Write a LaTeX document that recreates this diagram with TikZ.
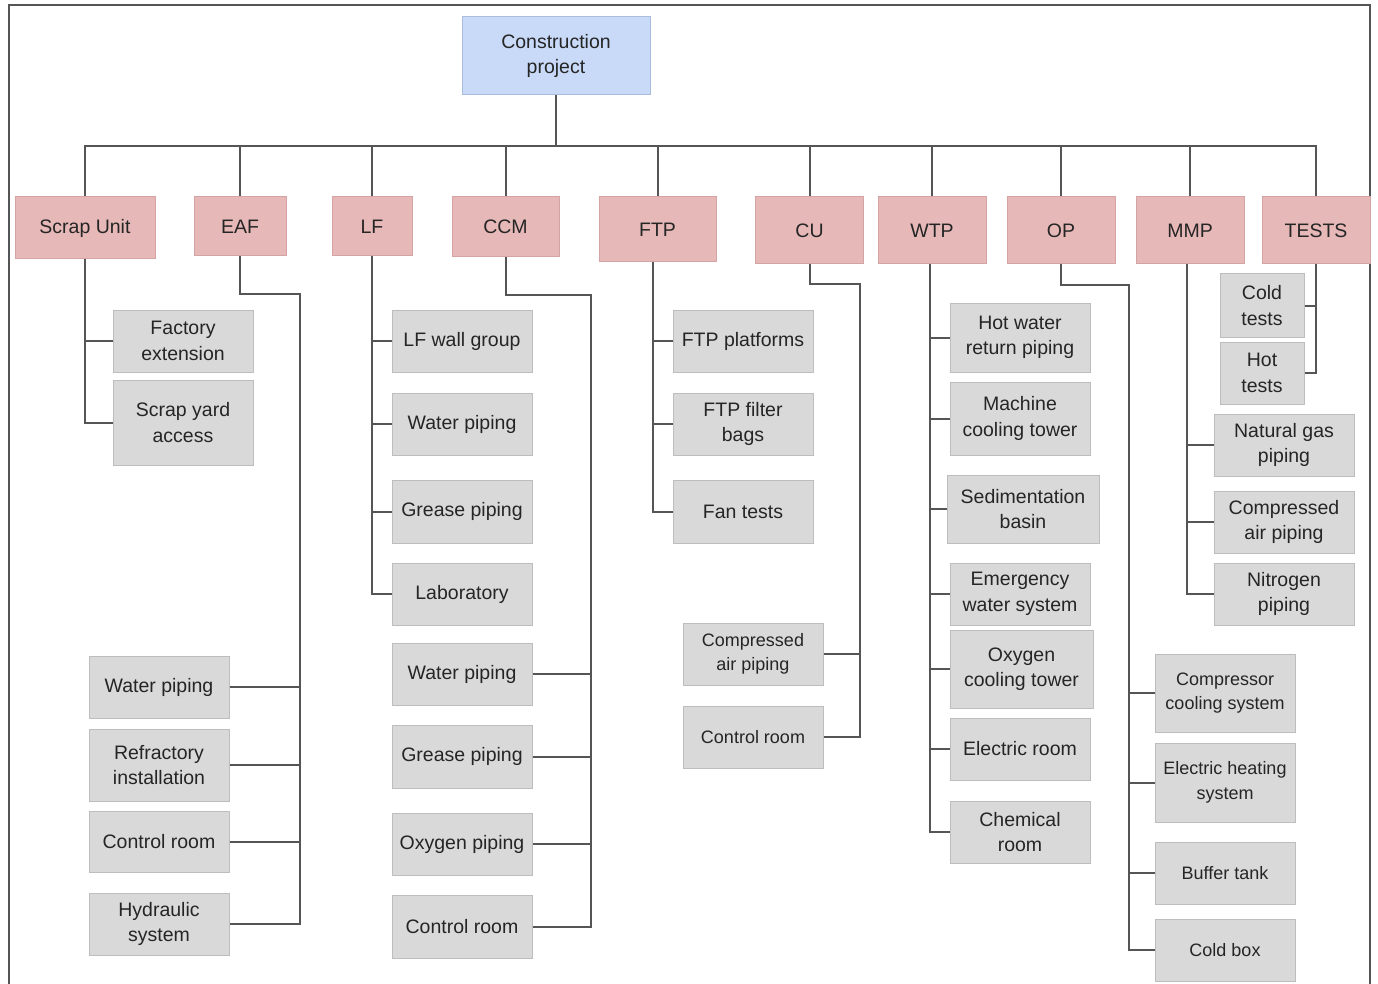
\documentclass[tikz,border=0pt]{standalone}
\usepackage{fontspec}
\setmainfont{Liberation Sans}
\definecolor{rootfill}{HTML}{C9DAF8}
\definecolor{rootdraw}{HTML}{A9BEDD}
\definecolor{pinkfill}{HTML}{E6B8B7}
\definecolor{pinkdraw}{HTML}{D4A3A3}
\definecolor{grayfill}{HTML}{D9D9D9}
\definecolor{graydraw}{HTML}{BDBDBD}
\definecolor{linecol}{HTML}{555555}
\definecolor{textcol}{HTML}{252525}
\tikzset{
  box/.style={rectangle, inner sep=0pt, align=center, text=textcol, line width=1pt,
    font=\fontsize{19.5}{25.5}\selectfont},
  rootbox/.style={box, fill=rootfill, draw=rootdraw},
  lonebox/.style={box, fill=pinkfill, draw=pinkdraw},
  ltwobox/.style={box, fill=grayfill, draw=graydraw},
  smalltext/.style={font=\fontsize{18}{24.5}\selectfont},
  conn/.style={draw=linecol, line width=2pt},
  frame/.style={draw=linecol, line width=2pt}
}
\newcommand{\bx}[6]{\node[#1, minimum width=#4pt, minimum height=#5pt] (#6) at (#2,#3)}
\begin{document}
\begin{tikzpicture}[x=1pt,y=-1pt]
\useasboundingbox (0,0) rectangle (1378,984);
\draw[frame] (9,984) -- (9,5) -- (1370,5) -- (1370,984);

% root
\bx{rootbox}{556}{56}{188}{78}{root} {Construction\\project};
% level 1
\bx{lonebox}{85}{228}{140}{62}{su} {Scrap Unit};
\bx{lonebox}{240}{226.5}{92}{59}{eaf} {EAF};
\bx{lonebox}{372}{226.5}{80}{59}{lf} {LF};
\bx{lonebox}{505.5}{227}{107}{60}{ccm} {CCM};
\bx{lonebox}{657.5}{229.5}{117}{65}{ftp} {FTP};
\bx{lonebox}{809.5}{230.5}{108}{67}{cu} {CU};
\bx{lonebox}{932}{230.5}{108}{67}{wtp} {WTP};
\bx{lonebox}{1061}{230.5}{108}{67}{op} {OP};
\bx{lonebox}{1190}{230.5}{108}{67}{mmp} {MMP};
\bx{lonebox}{1316}{230.5}{108}{67}{tests} {TESTS};

% level 2
\bx{ltwobox}{183}{341}{140}{62}{fe} {Factory\\extension};
\bx{ltwobox}{183}{422.5}{140}{85}{sya} {Scrap yard\\access};

\bx{ltwobox}{159}{687}{140}{62}{ewp} {Water piping};
\bx{ltwobox}{159}{765}{140}{72}{eri} {Refractory\\installation};
\bx{ltwobox}{159}{841.5}{140}{61}{ecr} {Control room};
\bx{ltwobox}{159}{924}{140}{62}{ehs} {Hydraulic\\system};

\bx{ltwobox}{462}{341}{140}{62}{lwg} {LF wall group};
\bx{ltwobox}{462}{424}{140}{62}{lwp} {Water piping};
\bx{ltwobox}{462}{511.5}{140}{63}{lgp} {Grease piping};
\bx{ltwobox}{462}{594}{140}{62}{llab} {Laboratory};

\bx{ltwobox}{462}{674}{140}{62}{cwp} {Water piping};
\bx{ltwobox}{462}{756.5}{140}{63}{cgp} {Grease piping};
\bx{ltwobox}{462}{844}{140}{62}{cop} {Oxygen piping};
\bx{ltwobox}{462}{926.5}{140}{63}{ccr} {Control room};

\bx{ltwobox}{743}{341}{140}{62}{fpl} {FTP platforms};
\bx{ltwobox}{743}{424}{140}{62}{ffb} {FTP filter\\bags};
\bx{ltwobox}{743}{511.5}{140}{63}{fft} {Fan tests};

\bx{ltwobox,smalltext}{753}{654}{140}{62}{ucap} {Compressed\\air piping};
\bx{ltwobox,smalltext}{753}{737}{140}{62}{ucr} {Control room};

\bx{ltwobox}{1020}{337.5}{140}{69}{whw} {Hot water\\return piping};
\bx{ltwobox}{1020}{418.5}{140}{73}{wmc} {Machine\\cooling tower};
\bx{ltwobox}{1023}{509}{152}{68}{wsb} {Sedimentation\\basin};
\bx{ltwobox}{1020}{594}{140}{62}{wew} {Emergency\\water system};
\bx{ltwobox}{1021.5}{669}{143}{78}{woc} {Oxygen\\cooling tower};
\bx{ltwobox}{1020}{749}{140}{62}{wer} {Electric room};
\bx{ltwobox}{1020}{832}{140}{62}{wcr} {Chemical\\room};

\bx{ltwobox,smalltext}{1225}{693}{140}{78}{occs} {Compressor\\cooling system};
\bx{ltwobox,smalltext}{1225}{782.5}{140}{79}{oehs} {Electric heating\\system};
\bx{ltwobox,smalltext}{1225}{873}{140}{62}{obt} {Buffer tank};
\bx{ltwobox,smalltext}{1225}{950}{140}{62}{ocb} {Cold box};

\bx{ltwobox}{1284}{445}{140}{62}{mng} {Natural gas\\piping};
\bx{ltwobox}{1284}{522}{140}{62}{mca} {Compressed\\air piping};
\bx{ltwobox}{1284}{594}{140}{62}{mnp} {Nitrogen\\piping};

\bx{ltwobox}{1262}{305.5}{84}{63}{tct} {Cold\\tests};
\bx{ltwobox}{1262}{373}{84}{62}{tht} {Hot\\tests};

% connectors: root to level 1
\coordinate (bus) at (556,146);
\draw[conn] (root.south) -- (bus);
\foreach \n in {su,eaf,lf,ccm,ftp,cu,wtp,op,mmp,tests}
  \draw[conn] (bus) -| (\n.north);

% Scrap Unit
\draw[conn] (su.south) |- (sya.west);
\draw[conn] (fe.west) -- (fe.west -| su.south);

% EAF
\coordinate (eafb) at (300,294);
\draw[conn] (eaf.south) |- (eafb) |- (ehs.east);
\foreach \n in {ewp,eri,ecr}
  \draw[conn] (\n.east) -- (\n.east -| eafb);

% LF
\draw[conn] (lf.south) |- (llab.west);
\foreach \n in {lwg,lwp,lgp}
  \draw[conn] (\n.west) -- (\n.west -| lf.south);

% CCM
\coordinate (ccmb) at (591,295);
\draw[conn] (ccm.south) |- (ccmb) |- (ccr.east);
\foreach \n in {cwp,cgp,cop}
  \draw[conn] (\n.east) -- (\n.east -| ccmb);

% FTP
\coordinate (ftpt) at (653,262);
\draw[conn] (ftpt) |- (fft.west);
\foreach \n in {fpl,ffb}
  \draw[conn] (\n.west) -- (\n.west -| ftpt);

% CU
\coordinate (cub) at (860,284);
\draw[conn] (cu.south) |- (cub) |- (ucr.east);
\draw[conn] (ucap.east) -- (ucap.east -| cub);

% WTP
\coordinate (wtpt) at (930,264);
\draw[conn] (wtpt) |- (wcr.west);
\foreach \n in {whw,wmc,wsb,wew,woc,wer}
  \draw[conn] (\n.west) -- (\n.west -| wtpt);

% OP
\coordinate (opb) at (1129,285);
\draw[conn] (op.south) |- (opb) |- (ocb.west);
\foreach \n in {occs,oehs,obt}
  \draw[conn] (\n.west) -- (\n.west -| opb);

% MMP
\coordinate (mmpt) at (1187,264);
\draw[conn] (mmpt) |- (mnp.west);
\foreach \n in {mng,mca}
  \draw[conn] (\n.west) -- (\n.west -| mmpt);

% TESTS
\draw[conn] (tests.south) |- (tht.east);
\draw[conn] (tct.east) -- (tct.east -| tests.south);
\end{tikzpicture}
\end{document}
